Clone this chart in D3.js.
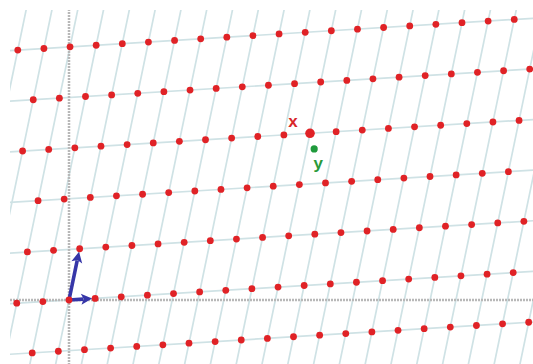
<!DOCTYPE html>
<html>
<head>
<meta charset="utf-8">
<script src="https://cdn.jsdelivr.net/npm/d3@7"></script>
<style>
  html, body { margin: 0; padding: 0; background: #fff; }
  svg { display: block; }
</style>
</head>
<body>
<script>
// Lattice basis vectors (in lattice units)
const basisB1 = [1.005, 0.062];
const basisB2 = [0.41, 1.972];
// Row / column indices of the lattice to generate
const rowIndices = d3.range(-3, 8);
const colIndices = d3.range(-25, 30);
// Closest lattice vector (coefficients in the basis) and the target point
const closestCoeff = [8, 3];
const closestLabel = "x";
const targetPoint = [9.43, 5.81];
const targetLabel = "y";

const W = 533, H = 364;
const svg = d3.select("body").append("svg").attr("width", W).attr("height", H);

// One lattice unit = 26 px, origin placed at (69, 300)
const xs = d3.scaleLinear().domain([0, 1]).range([69, 95]);
const ys = d3.scaleLinear().domain([0, 1]).range([300, 274]);

const comb = (a, b) => [a * basisB1[0] + b * basisB2[0], a * basisB1[1] + b * basisB2[1]];

const defs = svg.append("defs");
defs.append("clipPath").attr("id", "plot")
  .append("rect").attr("x", 10).attr("y", 10).attr("width", W - 10).attr("height", H - 10);

const g = svg.append("g").attr("clip-path", "url(#plot)");
const line = d3.line().x(d => xs(d[0])).y(d => ys(d[1]));

// Grid lines along b1 (rows) and along b2 (columns)
g.selectAll("path.row").data(rowIndices).join("path").attr("class", "row")
  .attr("d", j => line([comb(-40, j), comb(40, j)]))
  .attr("stroke", "#cfe2e5").attr("stroke-width", 1.7).attr("fill", "none");
g.selectAll("path.col").data(colIndices).join("path").attr("class", "col")
  .attr("d", i => line([comb(i, -10), comb(i, 10)]))
  .attr("stroke", "#cfe2e5").attr("stroke-width", 1.7).attr("fill", "none");

// Coordinate axes
g.append("line").attr("x1", xs(-10)).attr("x2", xs(30)).attr("y1", ys(0)).attr("y2", ys(0))
  .attr("stroke", "#b8b8b8").attr("stroke-width", 2.5).attr("stroke-dasharray", "2,1");
g.append("line").attr("x1", xs(0)).attr("x2", xs(0)).attr("y1", ys(-10)).attr("y2", ys(20))
  .attr("stroke", "#b8b8b8").attr("stroke-width", 2.5).attr("stroke-dasharray", "2,1");

// Basis vectors: shaft plus a filled head whose tip stops at the point's edge
const arrowColor = "#3636a8";
[basisB1, basisB2].forEach(b => {
  const x0 = xs(0), y0 = ys(0), x1 = xs(b[0]), y1 = ys(b[1]);
  const len = Math.hypot(x1 - x0, y1 - y0);
  const ux = (x1 - x0) / len, uy = (y1 - y0) / len;
  const tipX = x1 - ux * 3, tipY = y1 - uy * 3;
  const headL = 11, headW = 5.5;
  const bx = tipX - ux * headL, by = tipY - uy * headL;
  g.append("line")
    .attr("x1", x0).attr("y1", y0)
    .attr("x2", bx + ux * 2).attr("y2", by + uy * 2)
    .attr("stroke", arrowColor).attr("stroke-width", 3.6);
  g.append("path")
    .attr("d", `M${tipX},${tipY}L${bx - uy * headW},${by + ux * headW}L${bx + ux * 2.5},${by + uy * 2.5}L${bx + uy * headW},${by - ux * headW}Z`)
    .attr("fill", arrowColor);
});

// Lattice points
const pts = [];
rowIndices.forEach(j => colIndices.forEach(i => {
  const p = comb(i, j);
  const px = xs(p[0]), py = ys(p[1]);
  if (px >= 13 && px <= W - 2 && py >= 13 && py <= H - 2) pts.push(p);
}));
g.selectAll("circle.pt").data(pts).join("circle").attr("class", "pt")
  .attr("cx", d => xs(d[0])).attr("cy", d => ys(d[1])).attr("r", 3.4)
  .attr("fill", "#e02226");

// Closest lattice point x and target y
const cp = comb(closestCoeff[0], closestCoeff[1]);
g.append("circle").attr("cx", xs(cp[0])).attr("cy", ys(cp[1])).attr("r", 4.8).attr("fill", "#e02226");
g.append("text").attr("x", xs(cp[0]) - 17).attr("y", ys(cp[1]) - 6)
  .attr("text-anchor", "middle").attr("font-family", "Liberation Sans, Arial, sans-serif")
  .attr("font-weight", "bold").attr("font-size", 17).attr("fill", "#d8262b").text(closestLabel);

g.append("circle").attr("cx", xs(targetPoint[0])).attr("cy", ys(targetPoint[1])).attr("r", 3.6).attr("fill", "#1f9a3c");
g.append("text").attr("x", xs(targetPoint[0]) + 4).attr("y", ys(targetPoint[1]) + 20)
  .attr("text-anchor", "middle").attr("font-family", "Liberation Sans, Arial, sans-serif")
  .attr("font-weight", "bold").attr("font-size", 17).attr("fill", "#2a9a3a").text(targetLabel);
</script>
</body>
</html>
